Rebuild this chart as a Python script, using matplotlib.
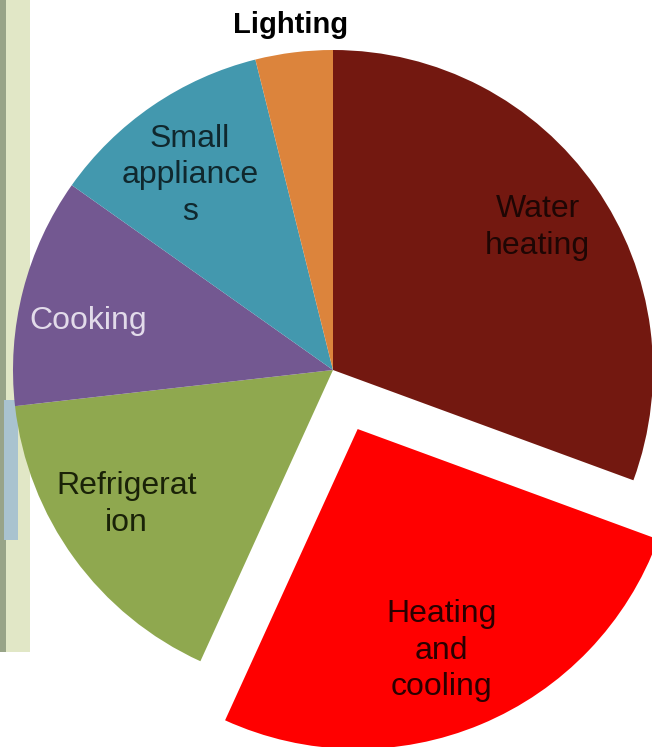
import numpy as np
import matplotlib
matplotlib.use("Agg")
import matplotlib.pyplot as plt
from matplotlib.patches import Rectangle

# share of household energy use (%), clockwise from 12 o'clock
labels = ["Water\nheating", "Heating\nand\ncooling", "Refrigerat\nion",
          "Cooking", "Small\nappliance\ns", "Lighting"]
values = [30.6, 26.2, 16.4, 11.6, 11.3, 3.9]
explode_frac = [0, 0.2, 0, 0, 0, 0]
colors = ["#731810", "#ff0000", "#8fa84f", "#735891", "#4398ae", "#dc843c"]
text_colors = ["#1e0604", "#2a0000", "#1a2208", "#e2dbea", "#10282e", "#000000"]

# label placement: fraction of radius and small angular nudge (deg) from the wedge middle
label_dist = [0.78, 0.74, 0.77, 0.78, 0.755, 1.085]
label_nudge = [0, -2, -3, 3, 2, 0]

W, H = 652, 747
R = 320
cx, cy = 333, H - 370

fig = plt.figure(figsize=(W / 100, H / 100), dpi=100)
fig.patch.set_facecolor("white")

# scrap of a screenshot on the left edge
fig.patches.append(Rectangle((0, (H - 652) / H), 30 / W, 652 / H, transform=fig.transFigure,
                             facecolor="#e1e7c6", edgecolor="none", zorder=0))
fig.patches.append(Rectangle((0, (H - 652) / H), 6 / W, 652 / H, transform=fig.transFigure,
                             facecolor="#98a488", edgecolor="none", zorder=0))
fig.patches.append(Rectangle((4 / W, (H - 540) / H), 14 / W, 140 / H, transform=fig.transFigure,
                             facecolor="#a9c3cf", edgecolor="none", zorder=0))

ax = fig.add_axes([0, 0, 1, 1])
ax.set_zorder(2)
ax.patch.set_alpha(0)

# pie's explode is in data units, so scale by the radius
explode = [e * R for e in explode_frac]

wedges, texts = ax.pie(values, labels=labels, explode=explode, colors=colors,
                       startangle=90, counterclock=False, radius=R, center=(cx, cy),
                       labeldistance=0.77,
                       wedgeprops=dict(linewidth=0),
                       textprops=dict(family="Liberation Sans", fontsize=23,
                                      linespacing=1.3))

for i, (w, t) in enumerate(zip(wedges, texts)):
    t.set_horizontalalignment("center")
    t.set_verticalalignment("center")
    t.set_color(text_colors[i])
    mid = np.deg2rad((w.theta1 + w.theta2) / 2 + label_nudge[i])
    wx, wy = w.center
    d = label_dist[i] * R
    t.set_position((wx + d * np.cos(mid), wy + d * np.sin(mid)))

# Lighting label sits outside, bold
texts[-1].set_fontweight("bold")
texts[-1].set_fontsize(21)

ax.set_xlim(0, W)
ax.set_ylim(0, H)
ax.set_aspect("equal")
ax.axis("off")

fig.savefig("out.png", dpi=100)
